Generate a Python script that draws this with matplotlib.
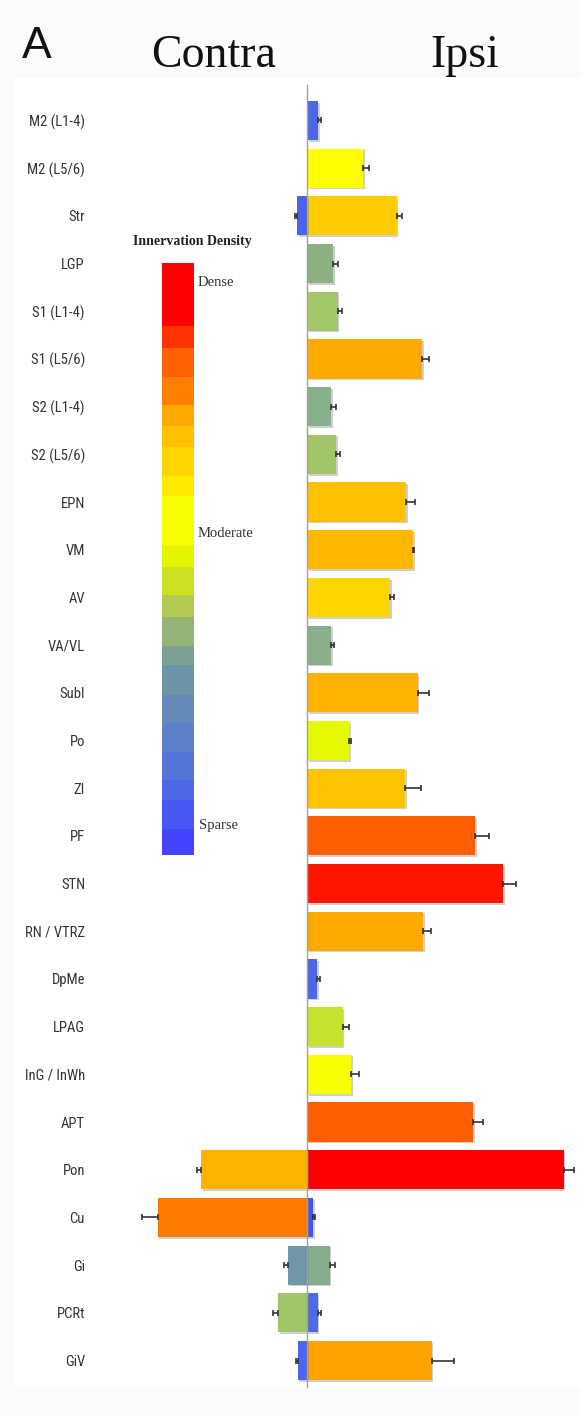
import matplotlib
matplotlib.use("Agg")
import matplotlib.pyplot as plt
import matplotlib.patheffects as pe
from matplotlib.colors import ListedColormap, BoundaryNorm
from matplotlib.cm import ScalarMappable
from matplotlib.patches import Rectangle

# ---- data -------------------------------------------------------------
regions = ["M2 (L1-4)", "M2 (L5/6)", "Str", "LGP", "S1 (L1-4)", "S1 (L5/6)",
           "S2 (L1-4)", "S2 (L5/6)", "EPN", "VM", "AV", "VA/VL", "SubI", "Po",
           "ZI", "PF", "STN", "RN / VTRZ", "DpMe", "LPAG", "InG / InWh", "APT",
           "Pon", "Cu", "Gi", "PCRt", "GiV"]

# ipsilateral innervation (a.u.) and SEM
ipsi = [11, 56, 89.5, 26, 30.5, 115, 24, 29, 99, 106, 83, 24, 110.5, 42,
        98, 168, 196, 116, 10, 35.5, 44, 166, 256.5, 6, 22.5, 10.5, 124.5]
ipsi_err = [3, 6, 5, 4.5, 4.5, 6.5, 5, 4, 9, 1, 4, 2.5, 11, 2,
            15.5, 13.5, 12.5, 7.5, 2.5, 6.5, 8, 10, 10.5, 2, 5.5, 3.5, 22]
ipsi_colors = ["#4b68e4", "#ffff00", "#ffcc00", "#8cb07e", "#a3c667", "#ffaa00",
               "#86af8a", "#a2c569", "#ffc100", "#ffb700", "#ffd500", "#88ae8c",
               "#ffb300", "#e5f900", "#ffc300", "#ff5f00", "#ff1500", "#ffa800",
               "#4c66e6", "#c6e22e", "#f7ff00", "#ff5f00", "#ff0000", "#4455f5",
               "#86ad8c", "#4d6ae6", "#ffa300"]

# contralateral innervation (a.u.), SEM and colour, only where present
contra_regions = ["Str", "Pon", "Cu", "Gi", "PCRt", "GiV"]
contra = [10, 106, 149.5, 19, 29, 9.5]
contra_err = [2, 4.5, 15.5, 4, 5, 2]
contra_colors = ["#4b62ea", "#ffb200", "#ff7a00", "#6f97a8", "#a0c468", "#4a66ec"]

# innervation-density scale (sparse -> dense) and block boundaries
legend_colors = ["#4444ff", "#4658f3", "#4c68e6", "#5374d8", "#5c80c9", "#648aba",
                 "#6b95a6", "#7aa192", "#94b377", "#b2cc52", "#cde122", "#e4f500",
                 "#f6ff00", "#ffeb00", "#ffd500", "#ffc000", "#ffa800", "#ff8000",
                 "#ff6000", "#ff3300", "#ff0000"]
legend_bounds = [0, 26, 55, 75, 103, 132, 160, 190, 209, 238, 260, 288, 309,
                 359, 379, 408, 429, 450, 478, 507, 529, 592]

# ---- figure -----------------------------------------------------------
W, H = 581, 1416
fig = plt.figure(figsize=(W / 100, H / 100), dpi=100, facecolor="#fbfbfb")


def fx(px):
    return px / W


def fy(py):
    return 1 - py / H


# white panel behind the chart
fig.patches.append(Rectangle((fx(15), fy(1387)), fx(581) - fx(15), fy(78) - fy(1387),
                             transform=fig.transFigure, facecolor="white",
                             edgecolor="none", zorder=-10))

ax_top, ax_bot = 96.65, 1384.35
ax = fig.add_axes([fx(95), fy(ax_bot), fx(581) - fx(95), fy(ax_top) - fy(ax_bot)])
ax.set_facecolor("none")

n = len(regions)
ypos = list(range(n))
shadow = [pe.SimplePatchShadow(offset=(1.2, -1.2), shadow_rgbFace="#777777", alpha=0.35),
          pe.Normal()]

bars = ax.barh(ypos, ipsi, height=0.82, color=ipsi_colors, zorder=3)
for b in bars:
    b.set_path_effects(shadow)
ax.errorbar(ipsi, ypos, xerr=[[0] * n, ipsi_err], fmt="none", ecolor="#333333",
            elinewidth=1.2, capsize=2.5, capthick=1.2, zorder=4)

cy = [regions.index(r) for r in contra_regions]
cneg = [-v for v in contra]
cbars = ax.barh(cy, cneg, height=0.82, color=contra_colors, zorder=3)
for b in cbars:
    b.set_path_effects(shadow)
ax.errorbar(cneg, cy, xerr=[contra_err, [0] * len(cy)], fmt="none", ecolor="#333333",
            elinewidth=1.2, capsize=2.5, capthick=1.2, zorder=4)

ax.axvline(0, ymin=-0.002, ymax=1.009, color="#a0a0a0", lw=1.0, zorder=5, clip_on=False)

ax.set_xlim(-212, 274)
ax.set_ylim(n - 0.5, -0.5)
ax.set_yticks(ypos)
ax.set_yticklabels(regions, family=["Roboto Condensed", "DejaVu Sans"],
                   fontsize=10.5, color="#333333")
ax.tick_params(axis="y", length=0, pad=7.2)
ax.set_xticks([])
for s in ax.spines.values():
    s.set_visible(False)

# ---- density scale ----------------------------------------------------
cax = fig.add_axes([fx(162), fy(855), fx(194) - fx(162), fy(263) - fy(855)])
sm = ScalarMappable(norm=BoundaryNorm(legend_bounds, len(legend_colors)),
                    cmap=ListedColormap(legend_colors))
cb = fig.colorbar(sm, cax=cax, spacing="proportional")
cb.set_ticks([])
cb.minorticks_off()
cax.tick_params(which="both", length=0, labelright=False, labelleft=False)
cb.outline.set_visible(False)

serif = ["Liberation Serif", "DejaVu Serif"]
fig.text(fx(192), fy(241), "Innervation Density", family=serif, weight="bold",
         fontsize=10, ha="center", va="center", color="#222222")
fig.text(fx(198), fy(282), "Dense", family=serif, fontsize=10.5, ha="left",
         va="center", color="#333333")
fig.text(fx(198), fy(533), "Moderate", family=serif, fontsize=10.5, ha="left",
         va="center", color="#333333")
fig.text(fx(199), fy(826), "Sparse", family=serif, fontsize=10.5, ha="left",
         va="center", color="#333333")

# ---- headings ---------------------------------------------------------
fig.text(fx(22), fy(58), "A", family=["Liberation Sans", "DejaVu Sans"],
         fontsize=32, ha="left", va="baseline", color="#111111")
fig.text(fx(214), fy(67), "Contra", family=serif, fontsize=33, ha="center",
         va="baseline", color="#111111")
fig.text(fx(465), fy(67), "Ipsi", family=serif, fontsize=33, ha="center",
         va="baseline", color="#111111")

fig.savefig("out.png", dpi=100, facecolor=fig.get_facecolor())
